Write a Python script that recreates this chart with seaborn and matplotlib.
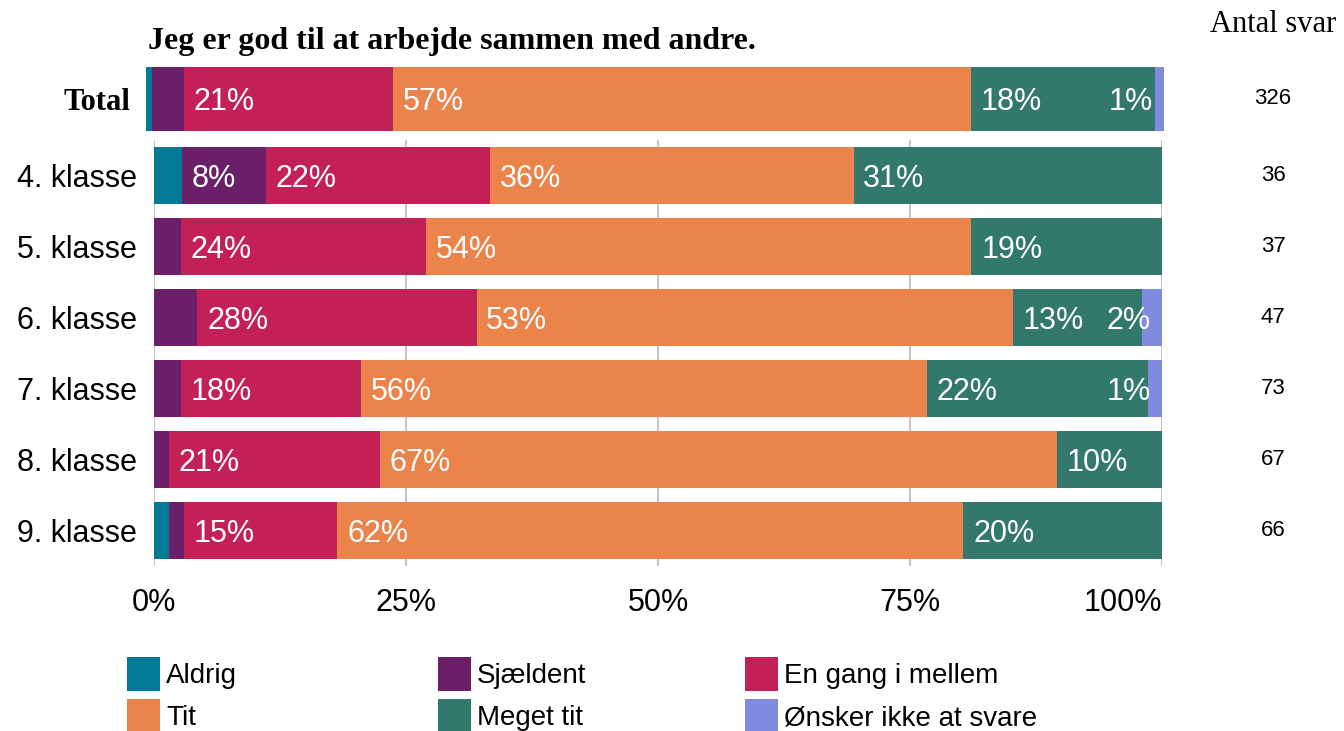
import matplotlib
matplotlib.use("Agg")
import matplotlib.pyplot as plt
import matplotlib.transforms as mtransforms
from matplotlib.patches import Patch
import pandas as pd
import seaborn as sns

# Svarkategorier og farver
categories = ["Aldrig", "Sjældent", "En gang i mellem", "Tit", "Meget tit", "Ønsker ikke at svare"]
colors = ["#017a96", "#6a1f68", "#c32056", "#ea844a", "#33786c", "#808be0"]

total_label = ["Total"]
total_values = [0.6, 3.1, 20.6, 56.7, 18.1, 0.9]
total_n = [326]

classes = ["4. klasse", "5. klasse", "6. klasse", "7. klasse", "8. klasse", "9. klasse"]
aldrig = [2.8, 0.0, 0.0, 0.0, 0.0, 1.5]
sjaeldent = [8.3, 2.7, 4.3, 2.7, 1.5, 1.5]
en_gang = [22.2, 24.3, 27.7, 17.8, 20.9, 15.2]
tit = [36.1, 54.1, 53.2, 56.2, 67.2, 62.1]
meget_tit = [30.6, 18.9, 12.8, 21.9, 10.4, 19.7]
oensker = [0.0, 0.0, 2.1, 1.4, 0.0, 0.0]
class_n = [36, 37, 47, 73, 67, 66]

xticks = [0, 25, 50, 75, 100]
title = "Jeg er god til at arbejde sammen med andre."

df_total = pd.DataFrame([total_values], columns=categories, index=total_label)
df_classes = pd.DataFrame(
    dict(zip(categories, [aldrig, sjaeldent, en_gang, tit, meget_tit, oensker])), index=classes)

sns.set_style("white")
plt.rcParams["font.family"] = ["Liberation Sans", "DejaVu Sans"]
plt.rcParams["text.color"] = "black"
plt.rcParams["xtick.color"] = "black"
plt.rcParams["ytick.color"] = "black"

fig = plt.figure(figsize=(13.44, 7.31), dpi=100)
ax_top = fig.add_axes([146 / 1344, 1 - 139 / 731, 1018 / 1344, 80 / 731])
ax = fig.add_axes([154 / 1344, 1 - 566 / 731, 1008 / 1344, 426 / 731])


def draw_stacked(ax, df):
    labels = list(df.index)
    cum = df[categories].cumsum(axis=1)
    # de største kumulerede værdier tegnes først, så de mindre ligger ovenpå
    for cat, col in reversed(list(zip(categories, colors))):
        sns.barplot(x=cum[cat].values, y=labels, orient="y", color=col, saturation=1,
                    width=0.8, errorbar=None, linewidth=0, ax=ax, zorder=2)
    for i, row in enumerate(labels):
        for j, cat in enumerate(categories):
            v = df.loc[row, cat]
            if v <= 0:
                continue
            if j == len(categories) - 1:
                ax.annotate(f"{round(v)}%", xy=(100, i), xytext=(-8, -2.5), textcoords="offset points",
                            ha="right", va="center", color="white", fontsize=22, zorder=5)
            elif v >= 5:
                start = cum.loc[row, cat] - v
                ax.annotate(f"{round(v)}%", xy=(start, i), xytext=(7, -2.5), textcoords="offset points",
                            ha="left", va="center", color="white", fontsize=22, zorder=5)
    ax.set_xlim(0, 100)
    ax.set_xlabel("")
    ax.set_ylabel("")
    for s in ax.spines.values():
        s.set_visible(False)


draw_stacked(ax_top, df_total)
draw_stacked(ax, df_classes)

# Total-akse
ax_top.set_xticks([])
ax_top.tick_params(axis="y", length=0, pad=11)
for lbl in ax_top.get_yticklabels():
    lbl.set_fontfamily("Liberation Serif")
    lbl.set_fontweight("bold")
    lbl.set_fontsize(22)

# Klasse-akse
ax.set_xticks(xticks, [f"{t}%" for t in xticks])
ax.grid(axis="x", color="#c4c8cc", linewidth=1.5)
ax.grid(axis="y", visible=False)
ax.set_axisbelow(True)
ax.tick_params(axis="x", length=0, pad=16, labelsize=22)
ax.tick_params(axis="y", length=0, pad=12, labelsize=22)
ax.get_xticklabels()[-1].set_horizontalalignment("right")

# Antal svar
for a, ns in [(ax_top, total_n), (ax, class_n)]:
    trans = mtransforms.blended_transform_factory(fig.transFigure, a.transData)
    for i, n in enumerate(ns):
        a.text(1273 / 1344, i, str(n), transform=trans, ha="center", va="center",
               fontsize=16, clip_on=False)

fig.text(148 / 1344, 1 - 41 / 731, title, fontfamily="Liberation Serif", fontweight="bold",
         fontsize=23, ha="left", va="center")
fig.text(1210 / 1344, 1 - 25 / 731, "Antal svar", fontfamily="Liberation Serif",
         fontsize=22, ha="left", va="center")

# Forklaring i tre kolonner
handles = [Patch(facecolor=c, edgecolor="none", label=l) for c, l in zip(colors, categories)]
for k, x in enumerate([127, 438, 745]):
    fig.legend(handles=[handles[k], handles[k + 3]], loc="upper left",
               bbox_to_anchor=(x / 1344, 1 - 657 / 731), frameon=False, fontsize=20,
               borderpad=0, borderaxespad=0, handlelength=1.2, handleheight=1.5,
               handletextpad=0.2, labelspacing=0.29)

fig.savefig("out.png", dpi=100)
